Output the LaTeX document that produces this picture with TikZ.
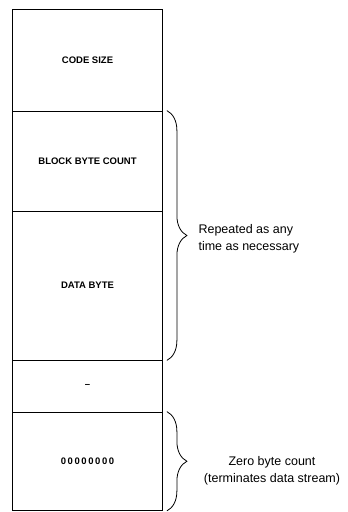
\documentclass[tikz,border=0pt]{standalone}
\usepackage{fontspec}
\setmainfont{Liberation Sans}
\usetikzlibrary{positioning,decorations.pathreplacing}

\begin{document}
\begin{tikzpicture}[
  x=1pt, y=-1pt,
  % one field of the record
  cell/.style={draw, rectangle, minimum width=150pt, inner sep=0pt,
               line width=0.8pt, font=\bfseries\fontsize{9.5}{11}\selectfont},
  % curly brace on the right of the fields
  brc/.style={decorate, decoration={brace, amplitude=20pt}, line width=0.8pt},
  note/.style={font=\fontsize{12.5}{17}\selectfont}
]
  \useasboundingbox (0,0) rectangle (348,512);

  % ---- Fields, top to bottom ----
  \node[cell, minimum height=102pt]  (size) at (87.5,60)    {CODE SIZE};
  \node[cell, minimum height=100pt]  (blk)  at (87.5,161)   {BLOCK BYTE COUNT};
  \node[cell, minimum height=149pt]  (data) at (87.5,285.5) {DATA BYTE};
  \node[cell, minimum height=52pt]   (gap)  at (87.5,386)   {--};
  \node[cell, minimum height=98.5pt] (zero) at (87.5,461.25)
       {0\,0\,0\,0\,0\,0\,0\,0};

  % ---- Braces and notes ----
  \draw[brc] ([xshift=4pt]blk.north east) -- ([xshift=4pt]data.south east);
  \node[note, anchor=west, align=left] (rep) at (195,239)
       {Repeated as any\\time as necessary};

  \draw[brc] ([xshift=4pt]zero.north east) -- ([xshift=4pt]zero.south east);
  \node[note, align=center] (term) at (272,471)
       {Zero byte count\\(terminates data stream)};
\end{tikzpicture}
\end{document}
